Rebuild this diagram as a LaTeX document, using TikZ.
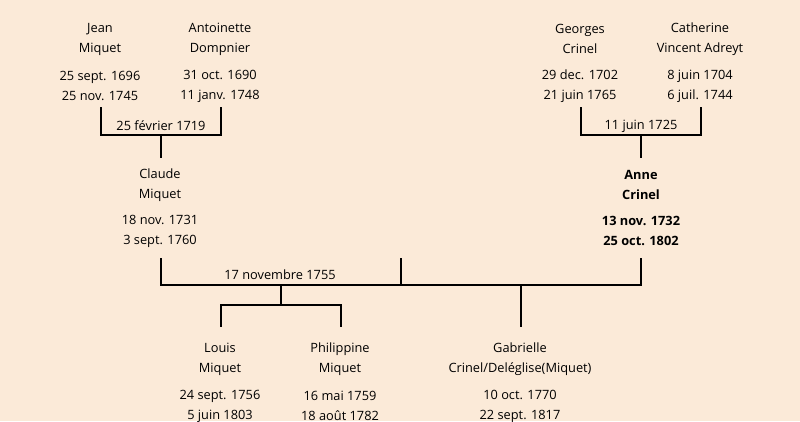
\documentclass[tikz,border=0pt]{standalone}
\usepackage{fontspec}
\setmainfont{Open Sans}
\definecolor{bg}{RGB}{251,234,216}
\begin{document}
\begin{tikzpicture}[x=1pt,y=-1pt,
  txt/.style={font=\fontsize{12.8}{20}\selectfont, align=center, inner sep=0pt, text=black},
  btxt/.style={txt, font=\fontsize{12.8}{20}\selectfont\bfseries},
  link/.style={line width=2pt, line cap=rect}]
\fill[bg] (0,0) rectangle (800,421);
\useasboundingbox (0,0) rectangle (800,421);
% generation 1
\node[txt] (jeanN) at (100,39) {Jean\\Miquet};
\node[txt] (jeanD) at (100,86) {25 sept. 1696\\25 nov. 1745};
\node[txt] (antN) at (220,39) {Antoinette\\Dompnier};
\node[txt] (antD) at (220,86) {31 oct. 1690\\11 janv. 1748};
\node[txt] (geoN) at (580,39) {Georges\\Crinel};
\node[txt] (geoD) at (580,86) {29 dec. 1702\\21 juin 1765};
\node[txt] (catN) at (700,39) {Catherine\\Vincent Adreyt};
\node[txt] (catD) at (700,86) {8 juin 1704\\6 juil. 1744};
% generation 2
\node[txt] (claN) at (160,185) {Claude\\Miquet};
\node[txt] (claD) at (160,231) {18 nov. 1731\\3 sept. 1760};
\node[btxt] (annN) at (641,185) {Anne\\Crinel};
\node[btxt] (annD) at (641,231) {13 nov. 1732\\25 oct. 1802};
% generation 3
\node[txt] (louN) at (220,359) {Louis\\Miquet};
\node[txt] (louD) at (220,406) {24 sept. 1756\\5 juin 1803};
\node[txt] (phiN) at (340,359) {Philippine\\Miquet};
\node[txt] (phiD) at (340,406) {16 mai 1759\\18 août 1782};
\node[txt] (gabN) at (520,359) {Gabrielle\\Crinel/Deléglise(Miquet)};
\node[txt] (gabD) at (520,406) {10 oct. 1770\\22 sept. 1817};
% marriage 1
\coordinate (m1a) at (101,108); \coordinate (m1b) at (221,108);
\coordinate (m1c) at (161,135);
\draw[link] (m1a) |- (m1c) -| (m1b);
\node[txt] (m1l) at (161,126) {25 février 1719};
\coordinate (m1d) at (161,157);
\draw[link] (m1c) -- (m1d);
% marriage 2
\coordinate (m2a) at (581,108); \coordinate (m2b) at (701,108);
\coordinate (m2c) at (641,135);
\draw[link] (m2a) |- (m2c) -| (m2b);
\node[txt] (m2l) at (641,126) {11 juin 1725};
\coordinate (m2d) at (641,157);
\draw[link] (m2c) -- (m2d);
% marriage 3
\coordinate (m3a) at (161,259); \coordinate (m3b) at (641,259);
\coordinate (m3m) at (401,259);
\coordinate (m3h) at (401,285);
\draw[link] (m3a) |- (m3h) -| (m3b);
\draw[link] (m3m) -- (m3h);
\node[txt] (m3l) at (280,275) {17 novembre 1755};
% children
\coordinate (c1) at (281,285); \coordinate (c1m) at (281,305);
\coordinate (louT) at (221,326); \coordinate (phiT) at (341,326);
\draw[link] (c1) -- (c1m);
\draw[link] (louT) |- (c1m) -| (phiT);
\coordinate (c2) at (521,285); \coordinate (gabT) at (521,326);
\draw[link] (c2) -- (gabT);
\end{tikzpicture}
\end{document}
